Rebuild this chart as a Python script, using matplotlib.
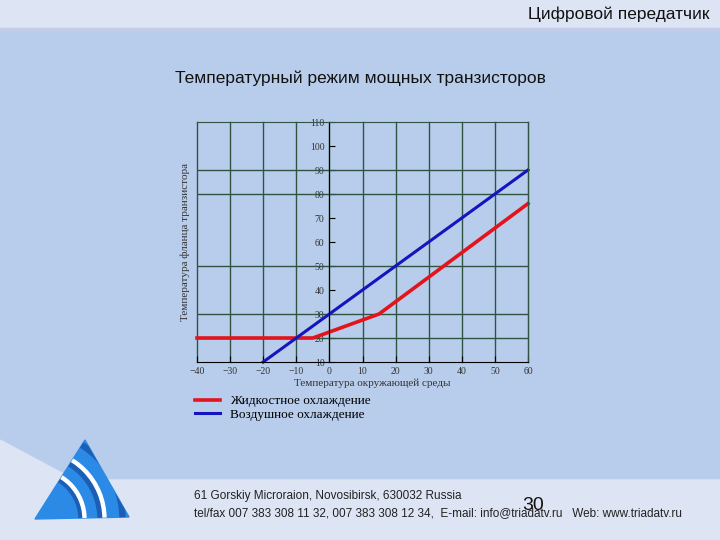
import matplotlib
matplotlib.use('Agg')
import matplotlib.pyplot as plt
from matplotlib.patches import Polygon, Rectangle, Wedge
from matplotlib.ticker import FixedLocator

# chart data
x_liquid = [-40, -5, 15, 60]
y_liquid = [20, 20, 30, 76]
x_air = [-20, 60]
y_air = [10, 90]
x_ticks = list(range(-40, 61, 10))
y_ticks = list(range(10, 111, 10))
y_grid = [20, 30, 50, 80, 90]

label_liquid = 'Жидкостное охлаждение'
label_air = 'Воздушное охлаждение'

grid_color = '#2f5443'

fig = plt.figure(figsize=(7.2, 5.4), dpi=100)

# slide background, pixel coordinates
bg = fig.add_axes([0, 0, 1, 1])
bg.set_xlim(0, 720)
bg.set_ylim(540, 0)
bg.axis('off')
bg.add_patch(Rectangle((0, 0), 720, 540, color='#b8cdeb'))
bg.add_patch(Rectangle((0, 0), 720, 28, color='#dde4f3'))
bg.add_patch(Rectangle((0, 28), 720, 2, color='#c3cdea'))
bg.add_patch(Polygon([(0, 440), (75, 480), (720, 480), (720, 540), (0, 540)], color='#dde4f3'))

# logo
tri = Polygon([(85, 440), (35, 519), (129, 517)], closed=True, color='#2a8ae6')
bg.add_patch(tri)
for r, w, c in [(48, 4, '#1c5eb5'), (51, 3, 'white'), (68, 5, '#1c5eb5'), (71, 3, 'white'), (90, 5, '#1c5eb5')]:
    wd = Wedge((35, 519), r, 0, 360, width=w, color=c)
    bg.add_patch(wd)
    wd.set_clip_path(tri)

# chart
ax = fig.add_axes([197 / 720, 1 - 362 / 540, 331 / 720, 240 / 540])
ax.patch.set_alpha(0)
ax.set_xlim(-40, 60)
ax.set_ylim(10, 110)
ax.spines['left'].set_position(('data', 0))
ax.spines['top'].set_color(grid_color)
ax.spines['right'].set_color(grid_color)
ax.set_xticks(x_ticks)
ax.set_yticks(y_ticks)
ax.yaxis.remove_overlapping_locs = False
ax.yaxis.set_minor_locator(FixedLocator(y_grid))
ax.grid(axis='x', which='major', color=grid_color, lw=1)
ax.grid(axis='y', which='minor', color=grid_color, lw=1)
ax.tick_params(which='minor', length=0)
ax.tick_params(which='major', direction='in', length=4, labelsize=7, labelcolor='#333333')
ax.tick_params(top=False, right=False)
for gl in ax.get_xgridlines():
    gl.set_clip_on(False)
for t in ax.get_xticklabels() + ax.get_yticklabels():
    t.set_family('Liberation Serif')

ax.plot(x_liquid, y_liquid, color='#e3141c', lw=2.6, label=label_liquid, clip_on=False)
ax.plot(x_air, y_air, color='#1515c0', lw=2.2, label=label_air, clip_on=False)

ax.set_ylabel('Температура фланца транзистора', fontsize=8, family='Liberation Serif', color='#333333')
ax.yaxis.set_label_coords(-0.021, 0.5)
ax.set_xlabel('Температура окружающей среды', fontsize=8, family='Liberation Serif', color='#333333')
ax.xaxis.set_label_coords(0.529, -0.067)

ax.legend(loc='upper left', bbox_to_anchor=(195 / 720, 1 - 395 / 540), bbox_transform=fig.transFigure,
          frameon=False, borderpad=0, borderaxespad=0, handlelength=1.9, handletextpad=0.75,
          labelspacing=0.1, prop={'family': 'Liberation Serif', 'size': 9.5})

# slide texts
fig.text(0.5, 1 - 78 / 540, 'Температурный режим мощных транзисторов', ha='center', va='center',
         fontsize=12.5, family='Liberation Sans', color='#111111')
fig.text(710 / 720, 1 - 14 / 540, 'Цифровой передатчик', ha='right', va='center',
         fontsize=12.5, family='Liberation Sans', color='#111111')
fig.text(194 / 720, 1 - 496 / 540, '61 Gorskiy Microraion, Novosibirsk, 630032 Russia', ha='left', va='center',
         fontsize=8.5, family='Liberation Sans', color='#222222')
fig.text(194 / 720, 1 - 513 / 540,
         'tel/fax 007 383 308 11 32, 007 383 308 12 34,  E-mail: info@triadatv.ru   Web: www.triadatv.ru',
         ha='left', va='center', fontsize=8.5, family='Liberation Sans', color='#222222')
fig.text(533 / 720, 1 - 506 / 540, '30', ha='center', va='center', fontsize=14, family='Liberation Sans', color='#111111')

fig.savefig('out.png', dpi=100)
